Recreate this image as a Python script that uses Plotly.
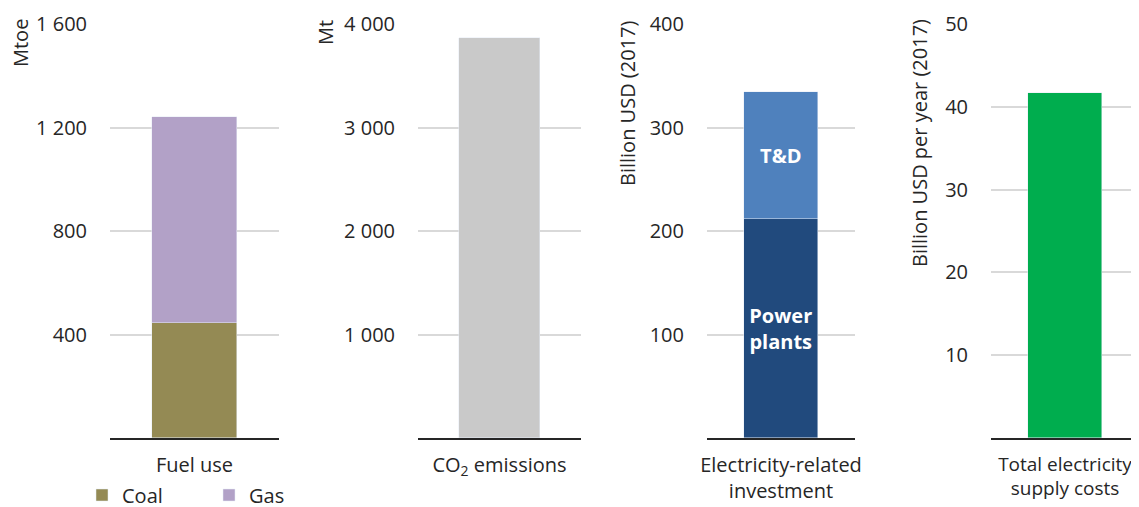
import plotly.graph_objects as go

# ---------------- data ----------------
fuel_cat = ["Fuel use"]
coal = [445]
gas = [795]            # stacked on coal -> total ~1240 Mtoe

co2_cat = ["CO<sub>2</sub> emissions"]
co2 = [3865]

inv_cat = ["Electricity-related<br>investment"]
power_plants = [212]
td = [122]             # total ~334

cost_cat = ["Total electricity<br>supply costs"]
supply_costs = [41.7]

y1_ticks = [400, 800, 1200, 1600]
y2_ticks = [1000, 2000, 3000, 4000]
y3_ticks = [100, 200, 300, 400]
y4_ticks = [10, 20, 30, 40, 50]

# ---------------- layout helpers (screen pixel geometry) ----------------
W, H = 1139, 507
OFF = 8  # page body margin offset of the figure
def px(x):
    return (x - OFF) / W
def py(y):
    return 1 - (y - OFF) / H

FONT = "Open Sans"
FS = 20
TXT = "#262626"

fig = go.Figure()

fig.add_trace(go.Bar(x=fuel_cat, y=coal, name="Coal", marker_color="#948A54",
                     width=0.5, xaxis="x", yaxis="y"))
fig.add_trace(go.Bar(x=fuel_cat, y=gas, name="Gas", marker_color="#B2A1C7",
                     width=0.5, xaxis="x", yaxis="y"))
fig.add_trace(go.Bar(x=co2_cat, y=co2, name="CO2", marker_color="#C9C9C9",
                     width=0.5, xaxis="x2", yaxis="y2", showlegend=False))
fig.add_trace(go.Bar(x=inv_cat, y=power_plants, name="Power plants",
                     marker_color="#214A7D", width=0.5, xaxis="x3", yaxis="y3",
                     showlegend=False, text=["Power<br>plants"], textposition="inside",
                     insidetextanchor="middle",
                     textfont=dict(color="white", size=FS, family=FONT, weight="bold")))
fig.add_trace(go.Bar(x=inv_cat, y=td, name="T&D",
                     marker_color="#4F81BD", width=0.5, xaxis="x3", yaxis="y3",
                     showlegend=False, text=["T&amp;D"], textposition="inside",
                     insidetextanchor="middle",
                     textfont=dict(color="white", size=FS, family=FONT, weight="bold")))
fig.add_trace(go.Bar(x=cost_cat, y=supply_costs, name="Supply costs",
                     marker_color="#00AD4E", width=0.5, xaxis="x4", yaxis="y4",
                     showlegend=False))

ydom = [py(438), py(24)]
xdoms = [[px(110), px(279)], [px(418), px(581)], [px(707), px(855)], [px(991), px(1139)]]
ranges = [[0, 1600], [0, 4000], [0, 400], [0, 50]]
ticks = [y1_ticks, y2_ticks, y3_ticks, y4_ticks]
xtick_sizes = [FS, FS, FS, 19]

layout = dict(
    barmode="stack",
    width=W, height=H,
    margin=dict(l=0, r=0, t=0, b=0, autoexpand=False),
    paper_bgcolor="white", plot_bgcolor="white",
    font=dict(family=FONT, size=FS, color=TXT),
    separators=". ",
    showlegend=True,
    legend=dict(orientation="h", x=px(82), y=py(495), xanchor="left", yanchor="middle",
                entrywidth=82, entrywidthmode="pixels", traceorder="normal",
                font=dict(family=FONT, size=FS, color=TXT), bgcolor="rgba(0,0,0,0)"),
    bargap=0,
)

for i in range(4):
    sx = "" if i == 0 else str(i + 1)
    layout["xaxis" + sx] = dict(domain=xdoms[i], anchor="y" + sx, showline=True,
                                linecolor="#262626", linewidth=1.5, showgrid=False,
                                ticks="", ticklabelstandoff=8, fixedrange=True,
                                automargin=False,
                                tickfont=dict(family=FONT, size=xtick_sizes[i], color=TXT))
    layout["yaxis" + sx] = dict(domain=ydom, anchor="x" + sx, range=ranges[i],
                                tickvals=ticks[i], tickformat=",", showgrid=True,
                                gridcolor="#D9D9D9", gridwidth=1.5, zeroline=False,
                                showline=False, ticks="", ticklabelstandoff=22,
                                fixedrange=True, automargin=False,
                                tickfont=dict(family=FONT, size=FS, color=TXT))

fig.update_layout(**layout)

# rotated y-axis titles, placed at the top of each axis
titles = [("Mtoe", 20, 43), ("Mt", 325, 32), ("Billion USD (2017)", 627, 103),
          ("Billion USD per year (2017)", 919, 143)]
for t, cx, cy in titles:
    fig.add_annotation(text=t, x=px(cx), y=py(cy), xref="paper", yref="paper",
                       xanchor="center", yanchor="middle", textangle=-90,
                       showarrow=False, font=dict(family=FONT, size=FS, color=TXT))

fig.write_html("out.html")
